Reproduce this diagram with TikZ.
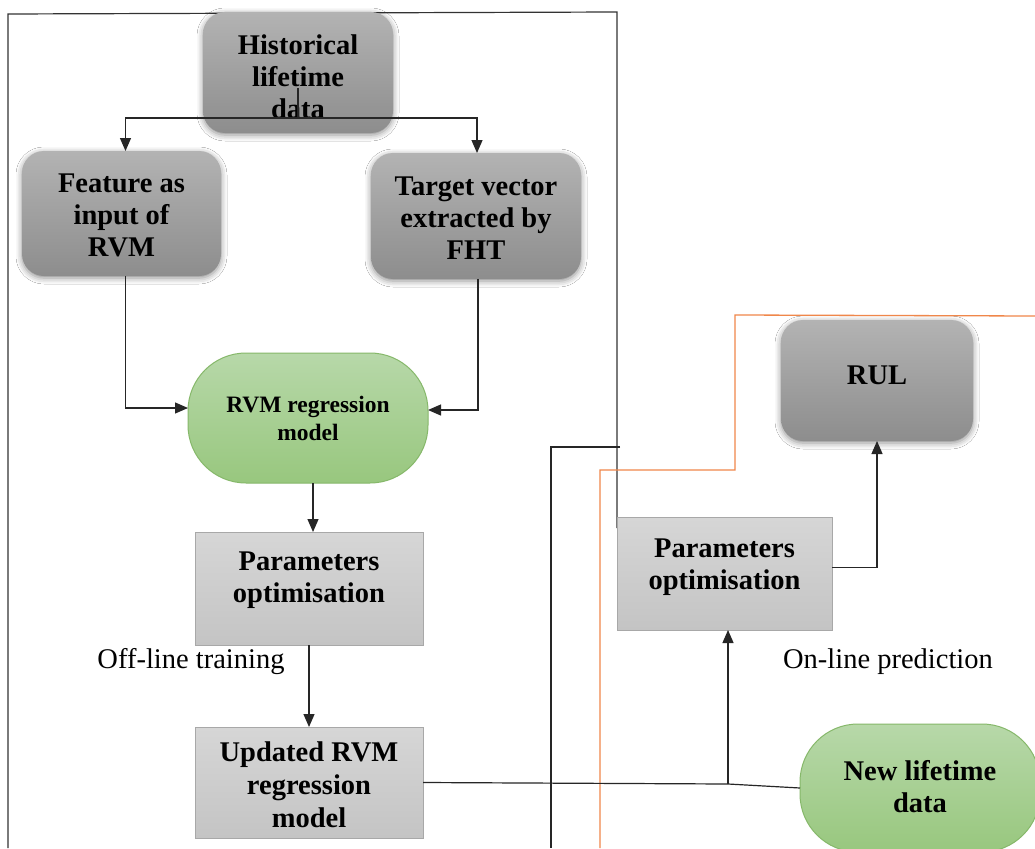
\documentclass[tikz,border=0pt]{standalone}
\usepackage{fontspec}
\setmainfont{Liberation Serif}
\usetikzlibrary{arrows.meta,shadows.blur}
\definecolor{gtop}{HTML}{B3B3B3}
\definecolor{gbot}{HTML}{8D8D8D}
\definecolor{ltop}{HTML}{D6D6D6}
\definecolor{lbot}{HTML}{C4C4C4}
\definecolor{ledge}{HTML}{A8A8A8}
\definecolor{grtop}{HTML}{B7D8A9}
\definecolor{grbot}{HTML}{98C77E}
\definecolor{gredge}{HTML}{86B86A}
\definecolor{orangeline}{HTML}{F0874A}
\begin{document}
\begin{tikzpicture}[x=1pt,y=-1pt,
  txt/.style={font=\fontsize{28.5}{32}\selectfont\bfseries, align=center, inner sep=0pt, outer sep=0pt},
  shape base/.style={inner sep=0pt, outer sep=0pt},
  graybox/.style={shape base, rounded corners=22pt, top color=gtop, bottom color=gbot, draw=none,
    blur shadow={shadow xshift=0pt, shadow yshift=-2pt, shadow blur radius=6pt, shadow opacity=45}},
  lightbox/.style={shape base, top color=ltop, bottom color=lbot, draw=ledge, line width=1pt},
  greenbox/.style={shape base, rounded corners=58pt, top color=grtop, bottom color=grbot, draw=gredge, line width=1pt},
  plain/.style={font=\fontsize{28.5}{32}\selectfont, inner sep=0pt},
  conn/.style={line width=1.2pt, draw=black!85},
  arr/.style={conn, -{Triangle[length=13pt,width=11pt]}}
]
\path[use as bounding box, clip] (0,0) rectangle (1035,848);
\fill[white] (0,0) rectangle (1035,848);

% frame lines
\draw[line width=1.2pt, black!80] (8,848) -- (8,14) -- (617,12) -- (617,528);
\draw[line width=1.2pt, black!85] (620,447) -- (551,447) -- (551,848);
\draw[line width=1.3pt, orangeline] (600,848) -- (600,470) -- (735,470) -- (735,315) -- (1035,316);

% nodes
\node[graybox, minimum width=190pt, minimum height=121pt,
  label={[txt, yshift=-4pt]center:{Historical\\lifetime\\data}}] (hist) at (298,72.5) {};
\node[graybox, minimum width=199pt, minimum height=125pt,
  label={[txt, yshift=-2pt]center:{Feature as\\input of\\RVM}}] (feat) at (121.5,213.5) {};
\node[graybox, minimum width=210pt, minimum height=126pt,
  label={[txt, yshift=-2pt]center:{Target vector\\extracted by\\FHT}}] (targ) at (476,216) {};
\node[greenbox, minimum width=240pt, minimum height=130pt,
  label={[txt, font=\fontsize{23.5}{28}\selectfont\bfseries]center:{RVM regression\\model}}] (rvm) at (308,418) {};
\node[lightbox, minimum width=228pt, minimum height=113pt,
  label={[txt, yshift=8pt]center:{Parameters\\optimisation}}] (parL) at (309,588.5) {};
\node[lightbox, minimum width=228pt, minimum height=111pt,
  label={[txt, font=\fontsize{28.5}{33}\selectfont\bfseries, yshift=-2pt]center:{Updated RVM\\regression\\model}}] (upd) at (309,782.5) {};
\node[lightbox, minimum width=215pt, minimum height=113pt,
  label={[txt, yshift=6pt]center:{Parameters\\optimisation}}] (parR) at (724.5,573.5) {};
\node[graybox, minimum width=192pt, minimum height=121pt,
  label={[txt, yshift=5pt]center:RUL}] (rul) at (877,380.5) {};
\node[greenbox, minimum width=240pt, minimum height=128pt,
  label={[txt, yshift=1pt]center:{New lifetime\\data}}] (newd) at (920,788) {};
\node[plain] (off) at (191,662) {Off-line training};
\node[plain] (on) at (888,662) {On-line prediction};

% connectors
\coordinate (hstem) at (298,88);
\coordinate (hsplit) at (298,118);
\draw[conn] (hstem) -- (hsplit);
\draw[arr] (hsplit) -| ([xshift=4pt]feat.north);
\draw[arr] (hsplit) -| ([xshift=1pt]targ.north);
\draw[arr] ([xshift=4pt]feat.south) |- ([yshift=10pt]rvm.west);
\draw[arr] ([xshift=2pt]targ.south) |- ([yshift=8pt]rvm.east);
\draw[arr] ([xshift=5pt]rvm.south) -- ([xshift=5pt]rvm.south |- parL.north);
\draw[arr] (parL.south) -- (upd.north);
\coordinate (br) at (728,784);
\draw[conn] (upd.east) -- (br) -- (newd.west);
\draw[arr] (br) -- (br |- parR.south);
\draw[arr] ([yshift=6pt]parR.east) -| (rul.south);
\end{tikzpicture}
\end{document}
